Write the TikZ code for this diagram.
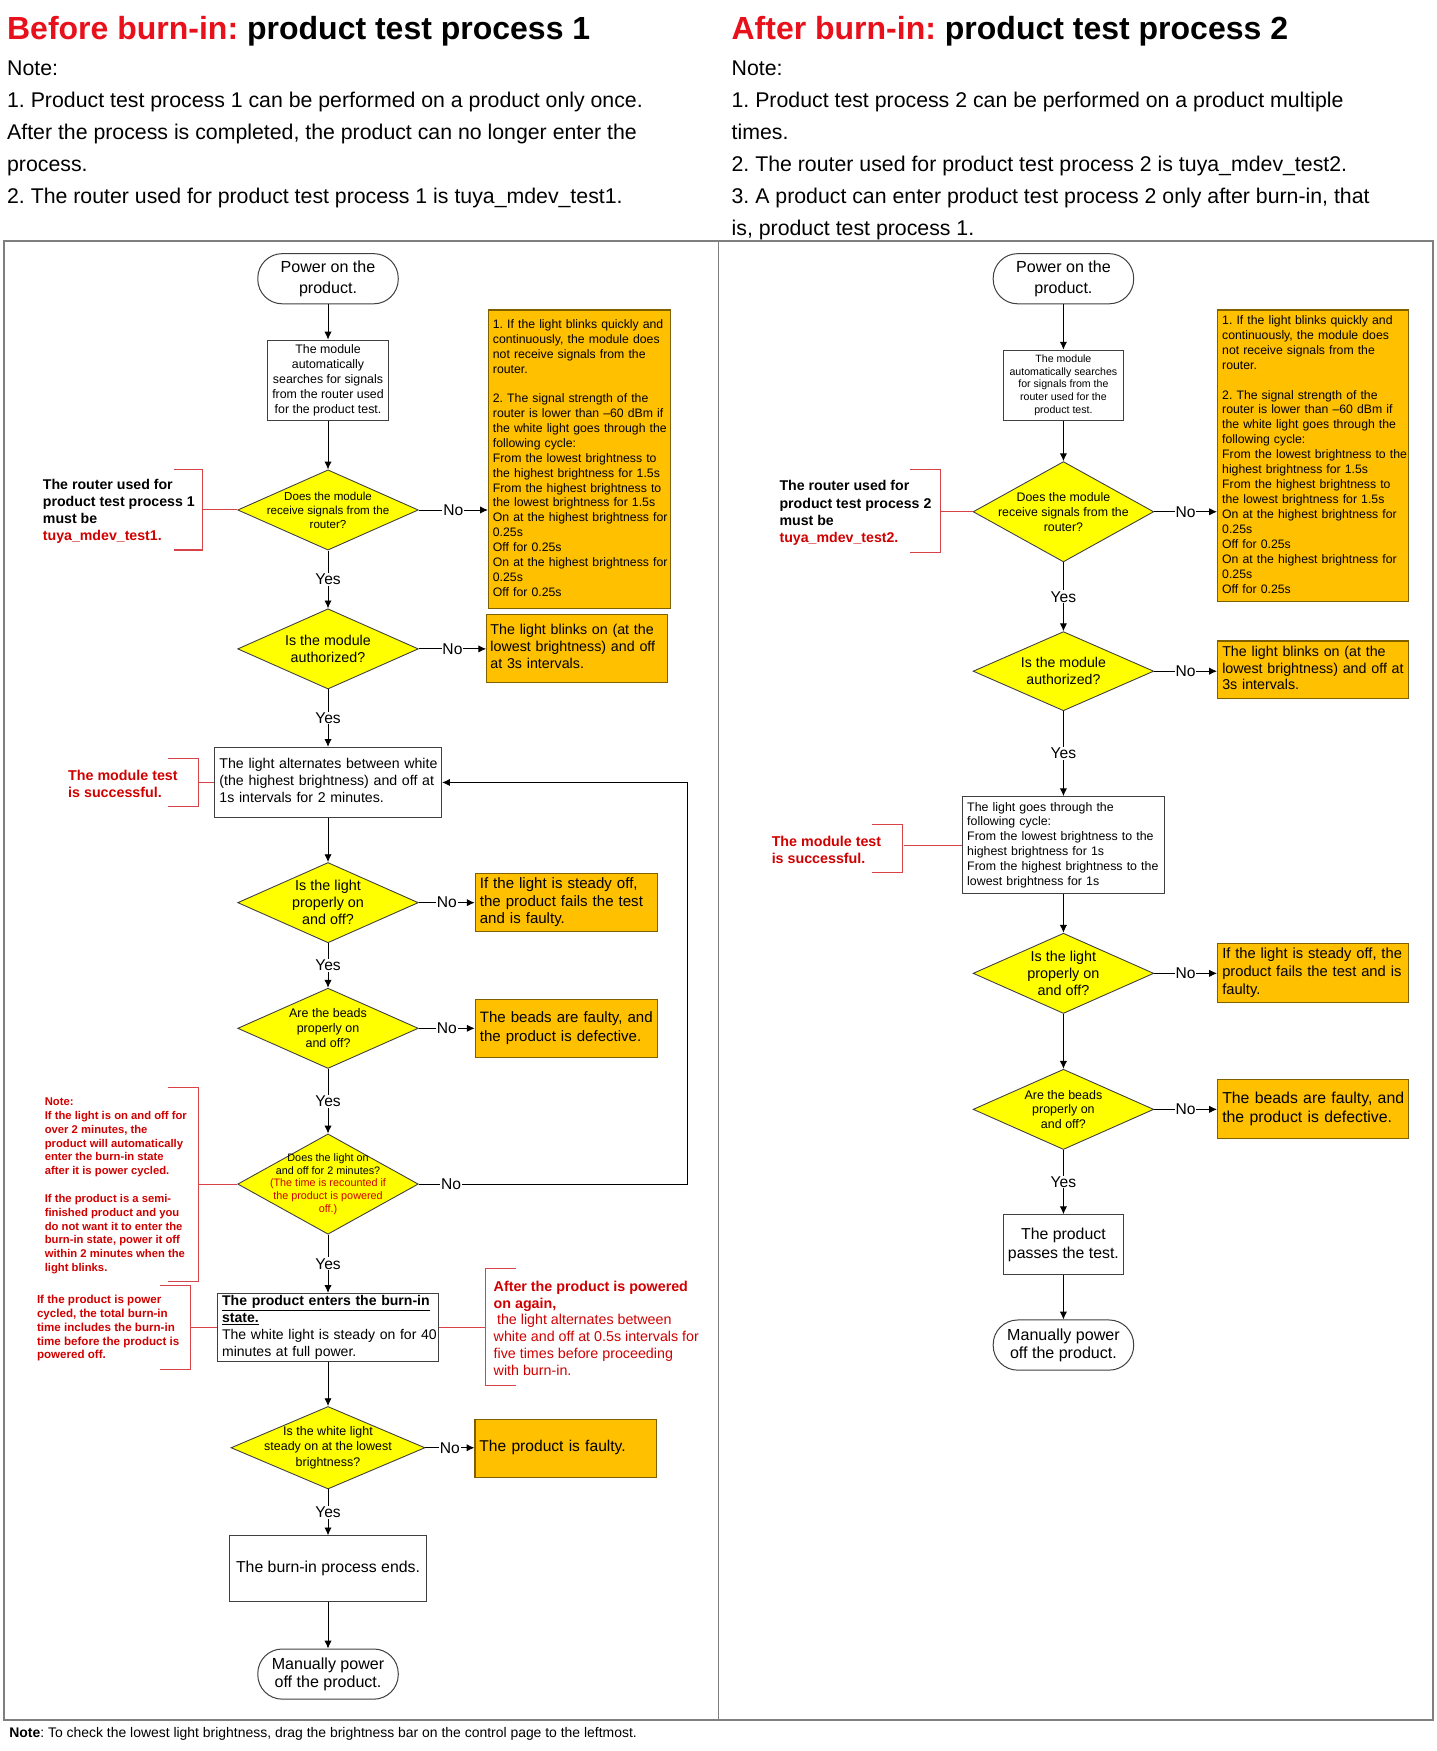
\documentclass[tikz,border=0pt]{standalone}
\usepackage{fontspec}
\setmainfont{Liberation Sans}
\usetikzlibrary{shapes.geometric, arrows, arrows.meta}

\definecolor{titlered}{HTML}{E8101A}
\definecolor{notered}{HTML}{D00000}
\definecolor{bracketred}{HTML}{D8434A}
\definecolor{failfill}{HTML}{FFC000}
\definecolor{failedge}{HTML}{7F6000}
\definecolor{askfill}{HTML}{FFFF00}
\definecolor{edgegray}{HTML}{404040}
\definecolor{framegray}{HTML}{7F7F7F}
\newcommand{\fsz}[2]{\fontsize{#1}{#2}\selectfont}
\newcommand{\leftlines}[1]{\begin{tabular}{@{}l@{}}#1\end{tabular}}

\tikzstyle{terminal} = [rectangle, rounded corners=22pt, minimum width=126pt, minimum height=45pt, align=center, draw=edgegray, line width=0.9pt, fill=white, inner sep=0pt, font=\fsz{14.4}{18.5}]
\tikzstyle{process} = [rectangle, align=center, draw=edgegray, line width=0.9pt, fill=white, inner sep=0pt]
\tikzstyle{decision} = [diamond, minimum width=162pt, minimum height=72pt, inner sep=0pt, draw=black!75, line width=0.8pt, fill=askfill]
\tikzstyle{asktext} = [align=center, inner sep=0pt]
\tikzstyle{failbox} = [rectangle, align=left, draw=failedge, line width=1pt, fill=failfill, inner sep=0pt]
\tikzstyle{arrow} = [line width=0.8pt, ->, >={Latex[length=7pt,width=6.5pt]}]
\tikzstyle{answer} = [fill=white, inner sep=0.8pt, font=\fsz{14}{16}]
\tikzstyle{remark} = [align=left, anchor=west, inner sep=0pt, font=\bfseries\fsz{12.7}{15.3}]
\tikzstyle{bracket} = [draw=bracketred, line width=0.9pt]

\begin{document}
\frenchspacing
\begin{tikzpicture}[x=1pt, y=-1pt]
    \useasboundingbox (0,0) rectangle (1288,1570.5);

    % Header
    \node (titleL) [anchor=base west, inner sep=0pt, font=\bfseries\fsz{28.7}{34}] at (6.2,35.3) {\textcolor{titlered}{Before burn-in:} product test process 1};
    \node (notesL) [anchor=west, align=left, inner sep=0pt, font=\fsz{19.1}{28.7}] at (6.2,120.5) {Note:\\1. Product test process 1 can be performed on a product only once.\\After the process is completed, the product can no longer enter the\\process.\\2. The router used for product test process 1 is tuya\_mdev\_test1.};
    \node (titleR) [anchor=base west, inner sep=0pt, font=\bfseries\fsz{28.7}{34}] at (656,35.3) {\textcolor{titlered}{After burn-in:} product test process 2};
    \node (notesR) [anchor=west, align=left, inner sep=0pt, font=\fsz{19.1}{28.7}] at (656,134.7) {Note:\\1. Product test process 2 can be performed on a product multiple\\times.\\2. The router used for product test process 2 is tuya\_mdev\_test2.\\3. A product can enter product test process 2 only after burn-in, that\\is, product test process 1.};

    % Frame
    \draw [framegray, line width=1.6pt] (3.3,216) rectangle (1285.4,1542.5);
    \draw [framegray, line width=1.2pt] (644.5,216) -- (644.5,1542.5);
    \node (footNote) [anchor=west, inner sep=0pt, font=\fsz{12.5}{14}] at (8.2,1555.5) {\textbf{Note}: To check the lowest light brightness, drag the brightness bar on the control page to the leftmost.};

    % Nodes, process 1
    \node (startL) [terminal] at (294.2,250) {Power on the\\product.};
    \node (searchL) [process, minimum width=108.8pt, minimum height=72pt, font=\fsz{11.1}{13.3}] at (294.2,341) {The module\\automatically\\searches for signals\\from the router used\\for the product test.};
    \node (askSignalL) [decision, label={[asktext, font=\fsz{10.4}{12.5}]center:{Does the module\\receive signals from the\\router?}}] at (294.2,457.4) {};
    \node (noSignalL) [failbox, minimum width=163pt, minimum height=268pt, text width=155pt, font=\fsz{11.0}{13.33}] at (519.6,412) {\leftlines{1. If the light blinks quickly and\\continuously, the module does\\not receive signals from the\\router.\\[13.33pt]2. The signal strength of the\\router is lower than –60 dBm if\\the white light goes through the\\following cycle:\\From the lowest brightness to\\the highest brightness for 1.5s\\From the highest brightness to\\the lowest brightness for 1.5s\\On at the highest brightness for\\0.25s\\Off for 0.25s\\On at the highest brightness for\\0.25s\\Off for 0.25s}};
    \node (routerNoteL) [remark] at (38.3,458.4) {The router used for\\product test process 1\\must be\\\textcolor{notered}{tuya\_mdev\_test1.}};
    \node (askAuthL) [decision, label={[asktext, font=\fsz{12.8}{15}]center:{Is the module\\authorized?}}] at (294.2,582) {};
    \node (noAuthL) [failbox, minimum width=162.5pt, minimum height=61pt, text width=155.9pt, font=\fsz{12.8}{15.2}] at (517.8,581.5) {\leftlines{The light blinks on (at the\\lowest brightness) and off\\at 3s intervals.}};
    \node (blinkL) [process, align=left, minimum width=203.8pt, minimum height=63pt, text width=194.8pt, font=\fsz{12.7}{15.3}] at (294.2,701.8) {\leftlines{The light alternates between white\\(the highest brightness) and off at\\1s intervals for 2 minutes.}};
    \node (moduleOkL) [remark, text=notered, font=\bfseries\fsz{12.8}{15}] at (61,703) {The module test\\is successful.};
    \node (askLightL) [decision, label={[asktext, font=\fsz{12.9}{15.3}]center:{Is the light\\properly on\\and off?}}] at (294.2,809.6) {};
    \node (noLightL) [failbox, minimum width=163.5pt, minimum height=52.3pt, text width=155.3pt, font=\fsz{13.5}{16}] at (508,809.4) {\leftlines{If the light is steady off,\\the product fails the test\\and is faulty.}};
    \node (askBeadsL) [decision, label={[asktext, font=\fsz{11.2}{13.4}]center:{Are the beads\\properly on\\and off?}}] at (294.2,922.3) {};
    \node (noBeadsL) [failbox, minimum width=163.5pt, minimum height=52pt, text width=155.3pt, font=\fsz{13.5}{16.4}] at (508,922.3) {\leftlines{The beads are faulty, and\\the product is defective.}};
    \node (askTimeL) [decision, minimum height=90pt, label={[asktext, font=\fsz{9.7}{11.4}]center:{Does the light on\\and off for 2 minutes?\\\textcolor{notered}{(The time is recounted if}\\\textcolor{notered}{the product is powered}\\\textcolor{notered}{off.)}}}] at (294.2,1062) {};
    \node (timeNoteL) [remark, text=notered, font=\bfseries\fsz{10.1}{12.4}] at (40,1063.6) {Note:\\If the light is on and off for\\over 2 minutes, the\\product will automatically\\enter the burn-in state\\after it is power cycled.\\[12.4pt]If the product is a semi-\\finished product and you\\do not want it to enter the\\burn-in state, power it off\\within 2 minutes when the\\light blinks.};
    \node (burnInL) [process, align=left, minimum width=198pt, minimum height=59pt, text width=190pt, font=\fsz{12.6}{15.2}] at (294.2,1190.5) {\leftlines{\underline{\textbf{The product enters the burn-in}}\\\underline{\textbf{state.}}\\The white light is steady on for 40\\minutes at full power.}};
    \node (cycleNoteL) [remark, text=notered, font=\bfseries\fsz{10.4}{12.3}] at (33,1191.4) {If the product is power\\cycled, the total burn-in\\time includes the burn-in\\time before the product is\\powered off.};
    \node (againNoteL) [remark, text=notered, font=\fsz{12.8}{15.2}] at (442.6,1191.4) {\textbf{After the product is powered}\\\textbf{on again,}\\\hspace*{3pt}the light alternates between\\white and off at 0.5s intervals for\\five times before proceeding\\with burn-in.};
    \node (askWhiteL) [decision, minimum width=174pt, minimum height=74pt, label={[asktext, font=\fsz{11.2}{13.6}]center:{Is the white light\\steady on at the lowest\\brightness?}}] at (294.2,1298.5) {};
    \node (faultyL) [failbox, minimum width=163pt, minimum height=52pt, text width=155pt, font=\fsz{14}{16}] at (507.5,1299) {\leftlines{The product is faulty.}};
    \node (endBurnL) [process, minimum width=177pt, minimum height=59pt, font=\fsz{14.2}{16}] at (294.2,1407) {The burn-in process ends.};
    \node (stopL) [terminal, font=\fsz{14.4}{16.5}] at (294.2,1501.5) {Manually power\\off the product.};
    \coordinate (loopL) at (616.4,0);

    % Nodes, process 2
    \node (startR) [terminal] at (953.8,250) {Power on the\\product.};
    \node (searchR) [process, minimum width=108.4pt, minimum height=63pt, font=\fsz{9.5}{11.4}] at (953.8,345.5) {The module\\automatically searches\\for signals from the\\router used for the\\product test.};
    \node (askSignalR) [decision, minimum height=90pt, label={[asktext, font=\fsz{11.1}{13.5}]center:{Does the module\\receive signals from the\\router?}}] at (953.8,459) {};
    \node (noSignalR) [failbox, minimum width=171.3pt, minimum height=261.6pt, text width=163pt, font=\fsz{11.0}{13.4}] at (1177.7,408.8) {\leftlines{1. If the light blinks quickly and\\continuously, the module does\\not receive signals from the\\router.\\[13.4pt]2. The signal strength of the\\router is lower than –60 dBm if\\the white light goes through the\\following cycle:\\From the lowest brightness to the\\highest brightness for 1.5s\\From the highest brightness to\\the lowest brightness for 1.5s\\On at the highest brightness for\\0.25s\\Off for 0.25s\\On at the highest brightness for\\0.25s\\Off for 0.25s}};
    \node (routerNoteR) [remark] at (699,460) {The router used for\\product test process 2\\must be\\\textcolor{notered}{tuya\_mdev\_test2.}};
    \node (askAuthR) [decision, minimum height=71pt, label={[asktext, font=\fsz{12.7}{15.6}]center:{Is the module\\authorized?}}] at (953.8,602) {};
    \node (noAuthR) [failbox, minimum width=171.3pt, minimum height=51.5pt, text width=162.9pt, font=\fsz{12.8}{15}] at (1177.7,600.7) {\leftlines{The light blinks on (at the\\lowest brightness) and off at\\3s intervals.}};
    \node (cycleR) [process, align=left, minimum width=181pt, minimum height=87pt, text width=172.6pt, font=\fsz{11.1}{13.3}] at (953.8,758) {\leftlines{The light goes through the\\following cycle:\\From the lowest brightness to the\\highest brightness for 1s\\From the highest brightness to the\\lowest brightness for 1s}};
    \node (moduleOkR) [remark, text=notered, font=\bfseries\fsz{12.8}{15}] at (692,762.2) {The module test\\is successful.};
    \node (askLightR) [decision, label={[asktext, font=\fsz{12.9}{15.2}]center:{Is the light\\properly on\\and off?}}] at (953.8,873) {};
    \node (noLightR) [failbox, minimum width=171.3pt, minimum height=52.4pt, text width=162.9pt, font=\fsz{13.2}{16.2}] at (1177.7,872.8) {\leftlines{If the light is steady off, the\\product fails the test and is\\faulty.}};
    \node (askBeadsR) [decision, label={[asktext, font=\fsz{11.2}{13}]center:{Are the beads\\properly on\\and off?}}] at (953.8,995) {};
    \node (noBeadsR) [failbox, minimum width=171.3pt, minimum height=52.4pt, text width=162.9pt, font=\fsz{14.2}{17.6}] at (1177.7,994.8) {\leftlines{The beads are faulty, and\\the product is defective.}};
    \node (passR) [process, minimum width=108.4pt, minimum height=54pt, font=\fsz{14.2}{17.5}] at (953.8,1116.5) {The product\\passes the test.};
    \node (stopR) [terminal, font=\fsz{14.4}{16.5}] at (953.8,1206.4) {Manually power\\off the product.};

    % Arrows, process 1
    \draw [arrow] (startL) -- (searchL);
    \draw [arrow] (searchL) -- (askSignalL);
    \draw [arrow] (askSignalL.east) -- node[answer]{No} (askSignalL.east -| noSignalL.west);
    \draw [arrow] (askSignalL) -- node[answer]{Yes} (askAuthL);
    \draw [arrow] (askAuthL.east) -- node[answer]{No} (askAuthL.east -| noAuthL.west);
    \draw [arrow] (askAuthL) -- node[answer]{Yes} (blinkL);
    \draw [arrow] (blinkL) -- (askLightL);
    \draw [arrow] (askLightL.east) -- node[answer]{No} (askLightL.east -| noLightL.west);
    \draw [arrow] (askLightL) -- node[answer]{Yes} (askBeadsL);
    \draw [arrow] (askBeadsL.east) -- node[answer]{No} (askBeadsL.east -| noBeadsL.west);
    \draw [arrow] (askBeadsL) -- node[answer]{Yes} (askTimeL);
    \draw [arrow] (askTimeL.east) -- node[answer, pos=0.12]{No} (askTimeL.east -| loopL) |- (blinkL.east);
    \draw [arrow] (askTimeL) -- node[answer]{Yes} (burnInL);
    \draw [arrow] (burnInL) -- (askWhiteL);
    \draw [arrow] (askWhiteL.east) -- node[answer]{No} (askWhiteL.east -| faultyL.west);
    \draw [arrow] (askWhiteL) -- node[answer]{Yes} (endBurnL);
    \draw [arrow] (endBurnL) -- (stopL);

    % Arrows, process 2
    \draw [arrow] (startR) -- (searchR);
    \draw [arrow] (searchR) -- (askSignalR);
    \draw [arrow] (askSignalR.east) -- node[answer]{No} (askSignalR.east -| noSignalR.west);
    \draw [arrow] (askSignalR) -- node[answer]{Yes} (askAuthR);
    \draw [arrow] (askAuthR.east) -- node[answer]{No} (askAuthR.east -| noAuthR.west);
    \draw [arrow] (askAuthR) -- node[answer]{Yes} (cycleR);
    \draw [arrow] (cycleR) -- (askLightR);
    \draw [arrow] (askLightR.east) -- node[answer]{No} (askLightR.east -| noLightR.west);
    \draw [arrow] (askLightR) -- (askBeadsR);
    \draw [arrow] (askBeadsR.east) -- node[answer]{No} (askBeadsR.east -| noBeadsR.west);
    \draw [arrow] (askBeadsR) -- node[answer]{Yes} (passR);
    \draw [arrow] (passR) -- (stopR);

    % Brackets
    \draw [bracket] (askSignalL.west) -- ++(-31.3,0);
    \draw [bracket] (155.7,421.5) -| (182,493.3) -- (155.7,493.3);
    \draw [bracket] (blinkL.west) -- ++(-14.3,0);
    \draw [bracket] (150.7,680) -| (178,723.5) -- (150.7,723.5);
    \draw [bracket] (askTimeL.west) -- ++(-35.3,0);
    \draw [bracket] (150.7,975) -| (178,1149) -- (150.7,1149);
    \draw [bracket] (burnInL.west) -- ++(-24.5,0);
    \draw [bracket] (143.5,1153) -| (170.7,1228) -- (143.5,1228);
    \draw [bracket] (burnInL.east) -- ++(41.8,0);
    \draw [bracket] (463,1138) -| (435,1243) -- (463,1243);
    \draw [bracket] (askSignalR.west) -- ++(-29.5,0);
    \draw [bracket] (816,421.5) -| (843.5,495.7) -- (816,495.7);
    \draw [bracket] (cycleR.west) -- ++(-52,0);
    \draw [bracket] (782,739.3) -| (809.5,782.7) -- (782,782.7);
\end{tikzpicture}
\end{document}
